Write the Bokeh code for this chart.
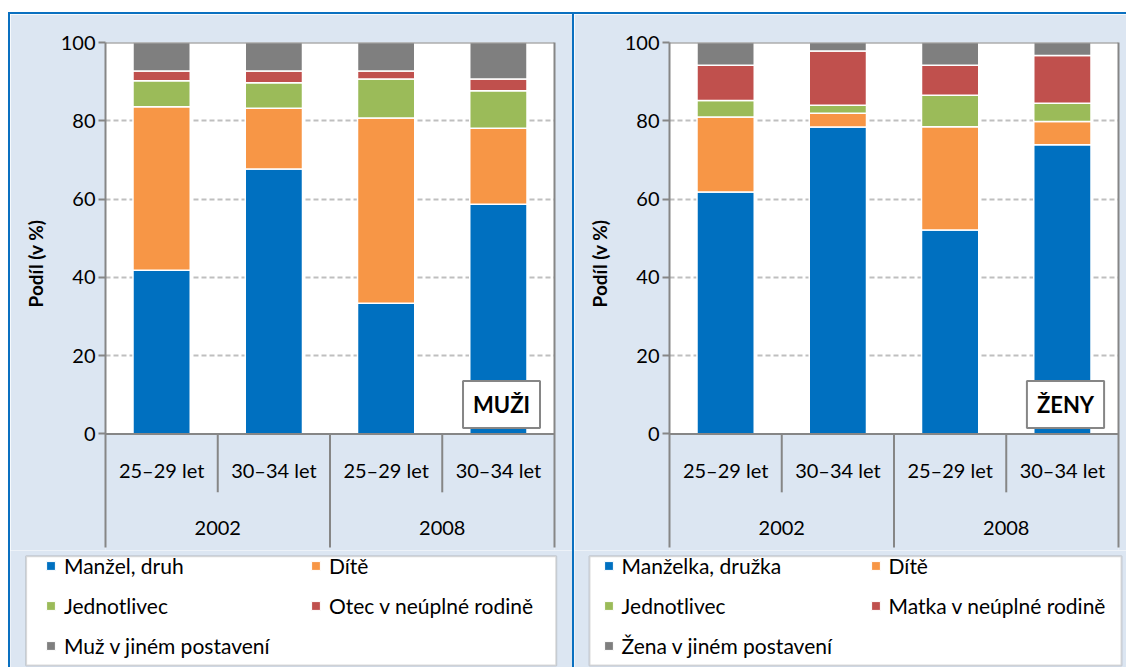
from bokeh.plotting import figure
from bokeh.models import (ColumnDataSource, FactorRange, Range1d, FixedTicker, LinearAxis,
                          Span, BoxAnnotation, Label, Legend, LegendItem, Spacer, Title)
from bokeh.layouts import row, column
from bokeh.core.properties import value
from bokeh.embed import file_html
from bokeh.resources import INLINE

# ---------------- data ----------------
years = ["2002", "2008"]
ages = ["25–29 let", "30–34 let"]
y_ticks = [0, 20, 40, 60, 80, 100]
grid_ticks = [20, 40, 60, 80]

men_names = ["Manžel, druh", "Dítě", "Jednotlivec", "Otec v neúplné rodině", "Muž v jiném postavení"]
women_names = ["Manželka, družka", "Dítě", "Jednotlivec", "Matka v neúplné rodině", "Žena v jiném postavení"]

men_spouse = [41.8, 67.7, 33.4, 58.7]
men_child = [41.8, 15.5, 47.3, 19.4]
men_single = [6.6, 6.5, 10.0, 9.6]
men_lone_parent = [2.5, 3.0, 2.0, 3.0]
men_other = [7.3, 7.3, 7.3, 9.3]

women_spouse = [61.8, 78.4, 52.1, 73.9]
women_child = [19.2, 3.5, 26.4, 5.9]
women_single = [4.2, 2.1, 8.0, 4.7]
women_lone_parent = [9.0, 13.8, 7.7, 12.2]
women_other = [5.8, 2.2, 5.8, 3.3]

# ---------------- style ----------------
colors = ["#0070C0", "#F79646", "#9BBB59", "#C0504D", "#7F7F7F"]
FONT = "Lato"
BG = "#DCE6F2"
BORDER = "#0A70C0"
AXIS = "#868686"
GRID = "#BFBFBF"
Y_MIN = -29.76
SEP_LONG = -29.0
SEP_SHORT = -14.9
AGE_Y = -9.3
YEAR_Y = -23.9
CHART_H = 536
LEG_H = 117


def chart(width, border_left, border_right, series, tag, tag_x):
    factors = [(y, a) for y in years for a in ages]
    xr = FactorRange(*factors, factor_padding=0, group_padding=0, subgroup_padding=0, range_padding=0)
    p = figure(width=width, height=CHART_H, x_range=xr, y_range=Range1d(Y_MIN, 100),
               x_axis_location=None, output_backend="svg", toolbar_location=None,
               min_border_left=border_left, min_border_right=border_right,
               min_border_top=28, min_border_bottom=0,
               background_fill_color=BG, border_fill_color=BG, outline_line_color=None)

    p.add_layout(BoxAnnotation(bottom=0, top=100, fill_color="white", fill_alpha=1,
                               line_color=None, level="image"))

    p.xgrid.grid_line_color = None
    p.ygrid.ticker = FixedTicker(ticks=grid_ticks)
    p.ygrid.grid_line_color = GRID
    p.ygrid.grid_line_width = 2
    p.ygrid.grid_line_dash = "5 3"

    ax = p.yaxis[0]
    ax.ticker = FixedTicker(ticks=y_ticks)
    ax.bounds = (SEP_LONG, 100)
    ax.axis_line_color = AXIS
    ax.axis_line_width = 2
    ax.major_tick_line_color = AXIS
    ax.major_tick_line_width = 2
    ax.major_tick_out = 7
    ax.major_tick_in = 0
    ax.minor_tick_line_color = None
    ax.major_label_text_font = FONT
    ax.major_label_text_font_size = "20px"
    ax.major_label_text_color = "black"
    ax.major_label_standoff = 3

    rax = LinearAxis(ticker=FixedTicker(ticks=[]), bounds=(SEP_LONG, 100),
                     axis_line_color=AXIS, axis_line_width=2,
                     major_tick_out=0, major_tick_in=0, minor_tick_out=0, minor_tick_in=0,
                     major_label_standoff=0, major_label_text_font_size="0px")
    p.add_layout(rax, "right")

    p.add_layout(Title(text="Podíl (v %)", align="right", offset=177, standoff=22,
                       text_font=FONT, text_font_size="19px", text_font_style="bold",
                       text_color="black"), "left")

    p.add_layout(Span(location=100, dimension="width", line_color=AXIS, line_width=2))

    keys = ["s0", "s1", "s2", "s3", "s4"]
    data = dict(x=factors)
    for k, s in zip(keys, series):
        data[k] = s
    src = ColumnDataSource(data)
    p.vbar_stack(keys, x="x", width=0.51, source=src, fill_color=colors,
                 line_color="white", line_width=1.5)

    p.add_layout(Span(location=0, dimension="width", line_color=AXIS, line_width=2))

    sx, sy1 = [], []
    for i in range(len(factors) - 1):
        sx.append((factors[i][0], factors[i][1], 0.5))
        sy1.append(SEP_LONG if factors[i][0] != factors[i + 1][0] else SEP_SHORT)
    p.segment(x0="x", y0="y0", x1="x", y1="y1",
              source=ColumnDataSource(dict(x=sx, y0=[0] * len(sx), y1=sy1)),
              line_color=AXIS, line_width=2)

    p.text(x=factors, y=[AGE_Y] * len(factors), text=[f[1] for f in factors],
           text_align="center", text_baseline="middle", text_font=value(FONT),
           text_font_size="20px", text_color="black")
    p.text(x=years, y=[YEAR_Y] * len(years), text=years,
           text_align="center", text_baseline="middle", text_font=value(FONT),
           text_font_size="20px", text_color="black")

    p.add_layout(Label(x=tag_x, y=146, x_units="screen", y_units="screen", text=tag,
                       text_align="center", text_baseline="middle",
                       text_font=FONT, text_font_style="bold", text_font_size="22px",
                       text_color="black", background_fill_color="white",
                       border_line_color=AXIS, border_line_width=2, padding=10))
    return p


def legend_fig(width, names, series, box, loc, label_width):
    p = figure(width=width, height=LEG_H, x_range=Range1d(0, width), y_range=Range1d(0, LEG_H),
               x_axis_location=None, y_axis_location=None, output_backend="svg",
               toolbar_location=None, min_border=0, min_border_left=0, min_border_right=0,
               min_border_top=0, min_border_bottom=0,
               background_fill_color=BG, border_fill_color=BG, outline_line_color=None)
    p.grid.visible = False
    left, right, bottom, top = box
    p.add_layout(BoxAnnotation(left=left, right=right, bottom=bottom, top=top,
                               fill_color="white", fill_alpha=1,
                               line_color=AXIS, line_width=2))
    # hidden renderers carrying the series, used only as legend glyph sources
    idx = list(range(len(series[0])))
    rs = [p.vbar(x=idx, top=s, width=0.5, fill_color=c, line_color="white", visible=False)
          for s, c in zip(series, colors)]
    order = [0, 2, 4, 1, 3]
    items = [LegendItem(label=names[i], renderers=[rs[i]]) for i in order]
    legend = Legend(items=items, orientation="vertical", nrows=3, location=loc,
                    border_line_color=None, background_fill_alpha=0,
                    label_text_font=FONT, label_text_font_size="21px",
                    label_text_color="black", click_policy="none",
                    glyph_width=11, glyph_height=11, label_standoff=8,
                    spacing=15, padding=0, label_width=label_width, label_height=22, margin=0)
    p.add_layout(legend)
    return p


men = [men_spouse, men_child, men_single, men_lone_parent, men_other]
women = [women_spouse, women_child, women_single, women_lone_parent, women_other]

c1 = chart(562, 93, 18, men, "MUŽI", 396)
c2 = chart(552, 94, 8, women, "ŽENY", 396)
l1 = legend_fig(562, men_names, men, (15.6, 545.7, 2, 111.3), (35, 9), 231)
l2 = legend_fig(552, women_names, women, (15, 547, 2, 111.3), (28.6, 9), 233)


def blue(w, h):
    return Spacer(width=w, height=h, styles={"background-color": BORDER})


layout = column(
    Spacer(width=1126, height=12),
    row(Spacer(width=8, height=2), blue(1118, 2)),
    row(Spacer(width=8, height=CHART_H), blue(2, CHART_H), c1, blue(2, CHART_H), c2),
    row(Spacer(width=8, height=LEG_H), blue(2, LEG_H), l1, blue(2, LEG_H), l2),
)

open("out.html", "w").write(file_html(layout, INLINE))
